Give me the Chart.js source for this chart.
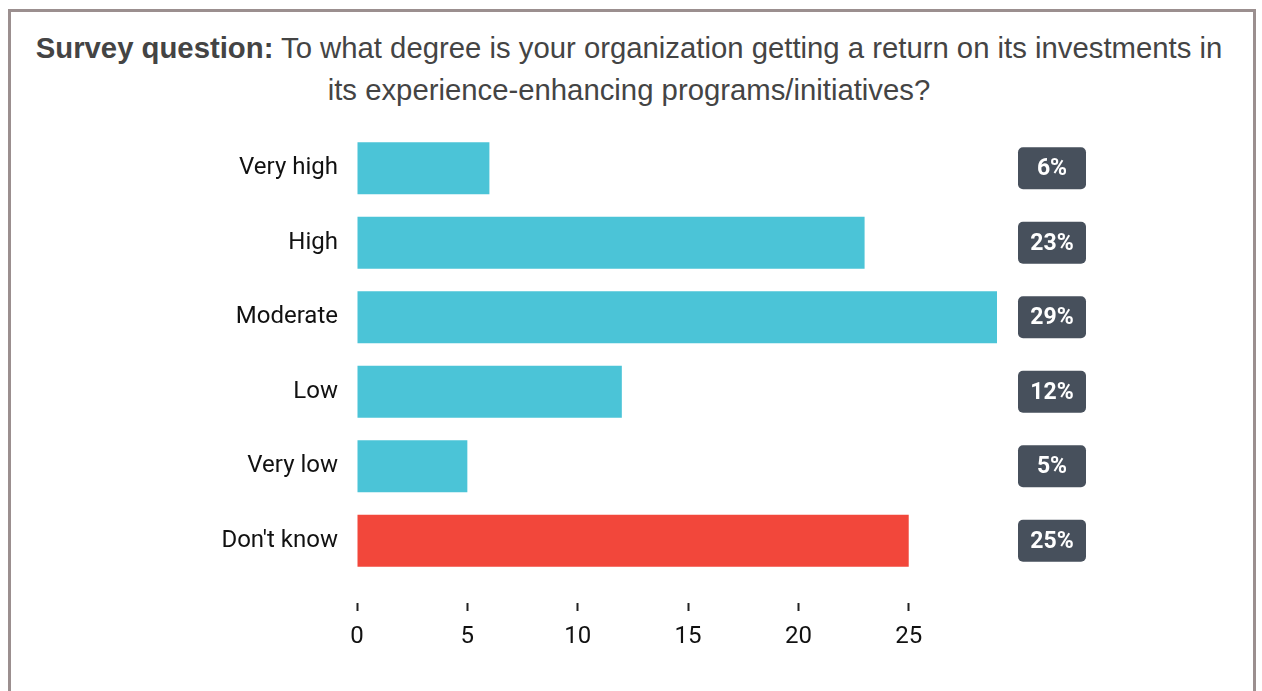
<!DOCTYPE html>
<html>
<head>
<meta charset="utf-8">
<title>Return on experience-enhancing programs</title>
<script src="https://cdn.jsdelivr.net/npm/chart.js@4.4.1/dist/chart.umd.min.js"></script>
<style>
  html, body { margin: 0; padding: 0; background: #fff; }
  body { width: 1262px; height: 691px; overflow: hidden; position: relative; }
  .frame {
    position: absolute; left: 8px; top: 9px; width: 1242px; height: 700px;
    border: 3px solid #9b8f8f; border-bottom: none;
  }
  .question {
    position: absolute; left: 8px; top: 27px; width: 1242px;
    text-align: center; font-family: "Liberation Sans", Arial, sans-serif;
    font-size: 29.3px; line-height: 42px; color: #444;
  }
  .question b { font-weight: bold; }
  #chart { position: absolute; left: 0; top: 0; }
</style>
</head>
<body>
<div class="frame"></div>
<div class="question"><b>Survey question:</b> To what degree is your organization getting a return on its investments in<br>its experience-enhancing programs/initiatives?</div>
<canvas id="chart" width="1262" height="691"></canvas>
<script>
const answers = ["Very high", "High", "Moderate", "Low", "Very low", "Don't know"];
const shares = [6, 23, 29, 12, 5, 25];
const barColors = ["#4bc4d7", "#4bc4d7", "#4bc4d7", "#4bc4d7", "#4bc4d7", "#f2473b"];
const xTicks = [0, 5, 10, 15, 20, 25];

// percentage badges to the right of the plot
const badgePlugin = {
  id: "badges",
  afterDraw(chart) {
    const ctx = chart.ctx;
    const yScale = chart.scales.y;
    const w = 68, h = 42, left = 1018;
    ctx.save();
    ctx.font = "bold 23px Roboto";
    ctx.textAlign = "center";
    ctx.textBaseline = "middle";
    shares.forEach((v, i) => {
      const cy = yScale.getPixelForValue(i);
      ctx.fillStyle = "#47505c";
      ctx.beginPath();
      ctx.roundRect(left, cy - h / 2, w, h, 5);
      ctx.fill();
      ctx.fillStyle = "#fff";
      ctx.fillText(v + "%", left + w / 2, cy + 1);
    });
    ctx.restore();
  }
};

new Chart(document.getElementById("chart"), {
  type: "bar",
  data: {
    labels: answers,
    datasets: [{
      data: shares,
      backgroundColor: barColors,
      categoryPercentage: 1,
      barPercentage: 0.7
    }]
  },
  options: {
    indexAxis: "y",
    responsive: false,
    animation: false,
    layout: { padding: { top: 131, right: 265, left: 0, bottom: 0 } },
    plugins: { legend: { display: false }, tooltip: { enabled: false } },
    scales: {
      x: {
        min: 0,
        max: 29,
        afterBuildTicks(scale) { scale.ticks = xTicks.map(v => ({ value: v })); },
        afterFit(scale) { scale.height = 113; },
        border: { display: false },
        grid: {
          drawOnChartArea: false,
          drawTicks: true,
          tickLength: 33,
          tickWidth: 2,
          tickColor: "#222",
          tickBorderDash: [0, 25, 8, 200]
        },
        ticks: { color: "#111", padding: 12, font: { family: "Roboto", size: 24 } }
      },
      y: {
        afterFit(scale) { scale.width = 357; },
        border: { display: false },
        grid: { display: false, drawTicks: false },
        ticks: { color: "#111", padding: 19, font: { family: "Roboto", size: 24 } }
      }
    }
  },
  plugins: [badgePlugin]
});
</script>
</body>
</html>
